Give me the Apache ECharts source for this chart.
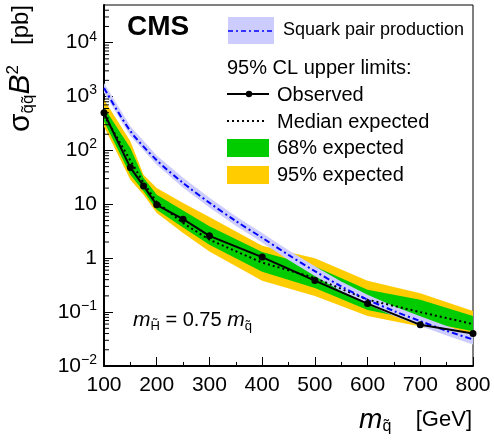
<!DOCTYPE html>
<html><head><meta charset="utf-8">
<script src="https://cdn.jsdelivr.net/npm/echarts@6/dist/echarts.min.js"></script>
<style>html,body{margin:0;padding:0;background:#fff}#c{width:494px;height:442px}</style>
</head><body><div id="c"></div>
<script>
// ---- data ----
const masses   = [100, 150, 175, 200, 250, 300, 400, 500, 600, 700, 800];
const observed = [500, 48, 22, 9.8, 5.3, 2.6, 1.05, 0.385, 0.144, 0.058, 0.040];
const expected = [450, 65, 25, 11, 4.5, 2.2, 0.83, 0.43, 0.17, 0.10, 0.060];
const exp68Up  = [624, 111, 31, 15, 7.7, 3.9, 1.3, 0.70, 0.26, 0.17, 0.085];
const exp68Dn  = [343, 35.5, 17.4, 7.9, 3.7, 1.78, 0.56, 0.28, 0.11, 0.069, 0.044];
const exp95Up  = [880, 148, 35.5, 20, 10.6, 5.8, 1.7, 1.0, 0.38, 0.224, 0.105];
const exp95Dn  = [277, 28.6, 15, 6.9, 2.95, 1.33, 0.38, 0.20, 0.085, 0.054, 0.031];

const sqMasses = [100, 150, 200, 250, 300, 350, 400, 450, 500, 550, 600, 650, 700, 750, 800];
const sqXsec   = [1445, 229, 66, 25, 10.7, 4.9, 2.4, 1.15, 0.575, 0.30, 0.17, 0.105, 0.068, 0.045, 0.031];
const sqUp     = [1780, 282, 81, 31, 13.2, 6.0, 2.95, 1.41, 0.71, 0.37, 0.21, 0.129, 0.084, 0.055, 0.038];
const sqDn     = [1175, 186, 54, 20.3, 8.7, 4.0, 1.95, 0.93, 0.47, 0.245, 0.138, 0.085, 0.055, 0.037, 0.025];

const xTicks = [100, 200, 300, 400, 500, 600, 700, 800];
const yMin = 0.01, yMax = 50000;

// ---- chart ----
const FONT = 'Liberation Sans, Arial, Helvetica, sans-serif';
const chart = echarts.init(document.getElementById('c'));
function pairs(xs, ys) { return xs.map((x, i) => [x, ys[i]]); }
function band(xs, up, dn, color, z) {
  return {
    type: 'custom', z: z, silent: true, clip: true,
    data: [[xs[0], up[0]]], encode: { x: 0, y: 1 },
    renderItem: function (params, api) {
      const pts = [];
      for (let i = 0; i < xs.length; i++) pts.push(api.coord([xs[i], up[i]]));
      for (let i = xs.length - 1; i >= 0; i--) pts.push(api.coord([xs[i], dn[i]]));
      return { type: 'polygon', shape: { points: pts }, style: { fill: color } };
    }
  };
}
const minorVals = [];
for (let e = -2; e <= 4; e++) for (let k = 2; k <= 9; k++) { const v = k * Math.pow(10, e); if (v < yMax) minorVals.push([xTicks[0], v]); }

const option = {
  animation: false,
  backgroundColor: '#fff',
  grid: { left: 104, right: 21, top: 5, bottom: 76, show: true, borderColor: '#000', borderWidth: 1, backgroundColor: 'transparent' },
  xAxis: {
    type: 'value', min: xTicks[0], max: xTicks[xTicks.length - 1], interval: 100,
    axisLine: { show: true, onZero: false, lineStyle: { color: '#000', width: 2 } },
    axisTick: { show: true, inside: true, length: 9, lineStyle: { color: '#000', width: 1 } },
    minorTick: { show: true, splitNumber: 2, length: 4, lineStyle: { color: '#000', width: 1 } },
    axisLabel: { color: '#000', fontSize: 21, fontFamily: FONT, margin: 9 },
    splitLine: { show: false }
  },
  yAxis: {
    type: 'log', logBase: 10, min: yMin, max: yMax, splitNumber: 7,
    axisLine: { show: true, lineStyle: { color: '#000', width: 2 } },
    axisTick: { show: true, inside: true, length: 9, lineStyle: { color: '#000', width: 1 } },
    axisLabel: {
      color: '#000', fontFamily: FONT, margin: 7, showMaxLabel: false,
      formatter: function (v) {
        const e = Math.round(Math.log10(v));
        if (Math.abs(Math.log10(v) - e) > 1e-6) return '';
        if (e === 0) return '{b|1}';
        if (e === 1) return '{b|10}';
        return '{b|10}{s|' + (e < 0 ? '\u2212' + (-e) : e) + '}';
      },
      rich: {
        b: { fontSize: 21, fontFamily: FONT, color: '#000', lineHeight: 26 },
        s: { fontSize: 14, fontFamily: FONT, color: '#000', lineHeight: 14, verticalAlign: 'top' }
      }
    },
    splitLine: { show: false }
  },
  series: [
    band(masses, exp95Up, exp95Dn, '#ffcc00', 1),
    band(masses, exp68Up, exp68Dn, '#00cc00', 2),
    band(sqMasses, sqUp, sqDn, '#ccccff', 3),
    {
      type: 'line', z: 4, data: pairs(masses, expected), symbol: 'none', silent: true,
      lineStyle: { color: '#000', width: 2, type: [2, 3] }
    },
    {
      type: 'line', z: 5, data: pairs(sqMasses, sqXsec), symbol: 'none', smooth: 0.3, silent: true,
      lineStyle: { color: '#0000ff', width: 2, type: [6, 3, 2, 3] }
    },
    {
      type: 'line', z: 6, data: pairs(masses, observed), symbol: 'circle', symbolSize: 7, silent: true,
      lineStyle: { color: '#000', width: 2 }, itemStyle: { color: '#000' }
    },
    {
      type: 'custom', z: 7, silent: true, clip: false, data: minorVals, encode: { x: 0, y: 1 },
      renderItem: function (params, api) {
        const p = api.coord([api.value(0), api.value(1)]);
        return { type: 'line', shape: { x1: p[0], y1: p[1], x2: p[0] + 5, y2: p[1] }, style: { stroke: '#000', lineWidth: 1 } };
      }
    }
  ],
  graphic: [
    // CMS label
    { type: 'text', x: 127, y: 27, style: { text: 'CMS', font: 'bold 28px ' + FONT, fill: '#000', verticalAlign: 'middle' } },
    // legend
    { type: 'rect', shape: { x: 228, y: 17, width: 46, height: 27 }, style: { fill: '#ccccff' } },
    { type: 'line', shape: { x1: 228, y1: 31, x2: 274, y2: 31 }, style: { stroke: '#0000ff', lineWidth: 1.5, lineDash: [5, 3, 2, 3] } },
    { type: 'text', x: 283, y: 30, style: { text: 'Squark pair production', font: '18px ' + FONT, fill: '#000', verticalAlign: 'middle' } },
    { type: 'text', x: 227, y: 68, style: { text: '95% CL upper limits:', font: '20px ' + FONT, fill: '#000', verticalAlign: 'middle' } },
    { type: 'line', shape: { x1: 227, y1: 94, x2: 269, y2: 94 }, style: { stroke: '#000', lineWidth: 2 } },
    { type: 'circle', shape: { cx: 249, cy: 94, r: 3.2 }, style: { fill: '#000' } },
    { type: 'text', x: 277, y: 95, style: { text: 'Observed', font: '20px ' + FONT, fill: '#000', verticalAlign: 'middle' } },
    { type: 'line', shape: { x1: 227, y1: 121, x2: 267, y2: 121 }, style: { stroke: '#000', lineWidth: 2, lineDash: [2, 3] } },
    { type: 'text', x: 277, y: 122, style: { text: 'Median expected', font: '20px ' + FONT, fill: '#000', verticalAlign: 'middle' } },
    { type: 'rect', shape: { x: 227, y: 139, width: 42, height: 18 }, style: { fill: '#00cc00' } },
    { type: 'text', x: 277, y: 148, style: { text: '68% expected', font: '20px ' + FONT, fill: '#000', verticalAlign: 'middle' } },
    { type: 'rect', shape: { x: 227, y: 166, width: 42, height: 18 }, style: { fill: '#ffcc00' } },
    { type: 'text', x: 277, y: 175, style: { text: '95% expected', font: '20px ' + FONT, fill: '#000', verticalAlign: 'middle' } },
    // annotation
    { type: 'text', x: 133, y: 320, style: {
        text: '{m|m}{s|H\u0303} = 0.75 {m|m}{s|q\u0303}', font: '20px ' + FONT, fill: '#000', verticalAlign: 'middle',
        rich: { m: { font: 'italic 21px ' + FONT, fill: '#000', lineHeight: 26 },
                s: { font: '13px ' + FONT, fill: '#000', lineHeight: 14, verticalAlign: 'bottom' } } } },
    // x title
    { type: 'text', x: 472, y: 420, style: {
        text: '{m|m}{s|q\u0303}{g|    [GeV]}', align: 'right', verticalAlign: 'middle', fill: '#000',
        rich: { m: { font: 'italic 28px ' + FONT, fill: '#000', lineHeight: 30 },
                s: { font: '16px ' + FONT, fill: '#000', lineHeight: 16, verticalAlign: 'bottom' },
                g: { font: '22px ' + FONT, fill: '#000', lineHeight: 30 } } } },
    // y title
    { type: 'text', x: 21, y: 5, rotation: Math.PI / 2, style: {
        text: '{g|\u03c3}{s|q\u0303q\u0303}{B|B}{p|2}{t|   [pb]}', align: 'right', verticalAlign: 'middle', fill: '#000',
        rich: { g: { font: '30px ' + FONT, fill: '#000', lineHeight: 32 },
                s: { font: '17px ' + FONT, fill: '#000', lineHeight: 17, verticalAlign: 'bottom' },
                B: { font: 'italic 30px ' + FONT, fill: '#000', lineHeight: 32 },
                p: { font: '17px ' + FONT, fill: '#000', lineHeight: 17, verticalAlign: 'top' },
                t: { font: '24px ' + FONT, fill: '#000', lineHeight: 32 } } } }
  ]
};
chart.setOption(option);
</script></body></html>
